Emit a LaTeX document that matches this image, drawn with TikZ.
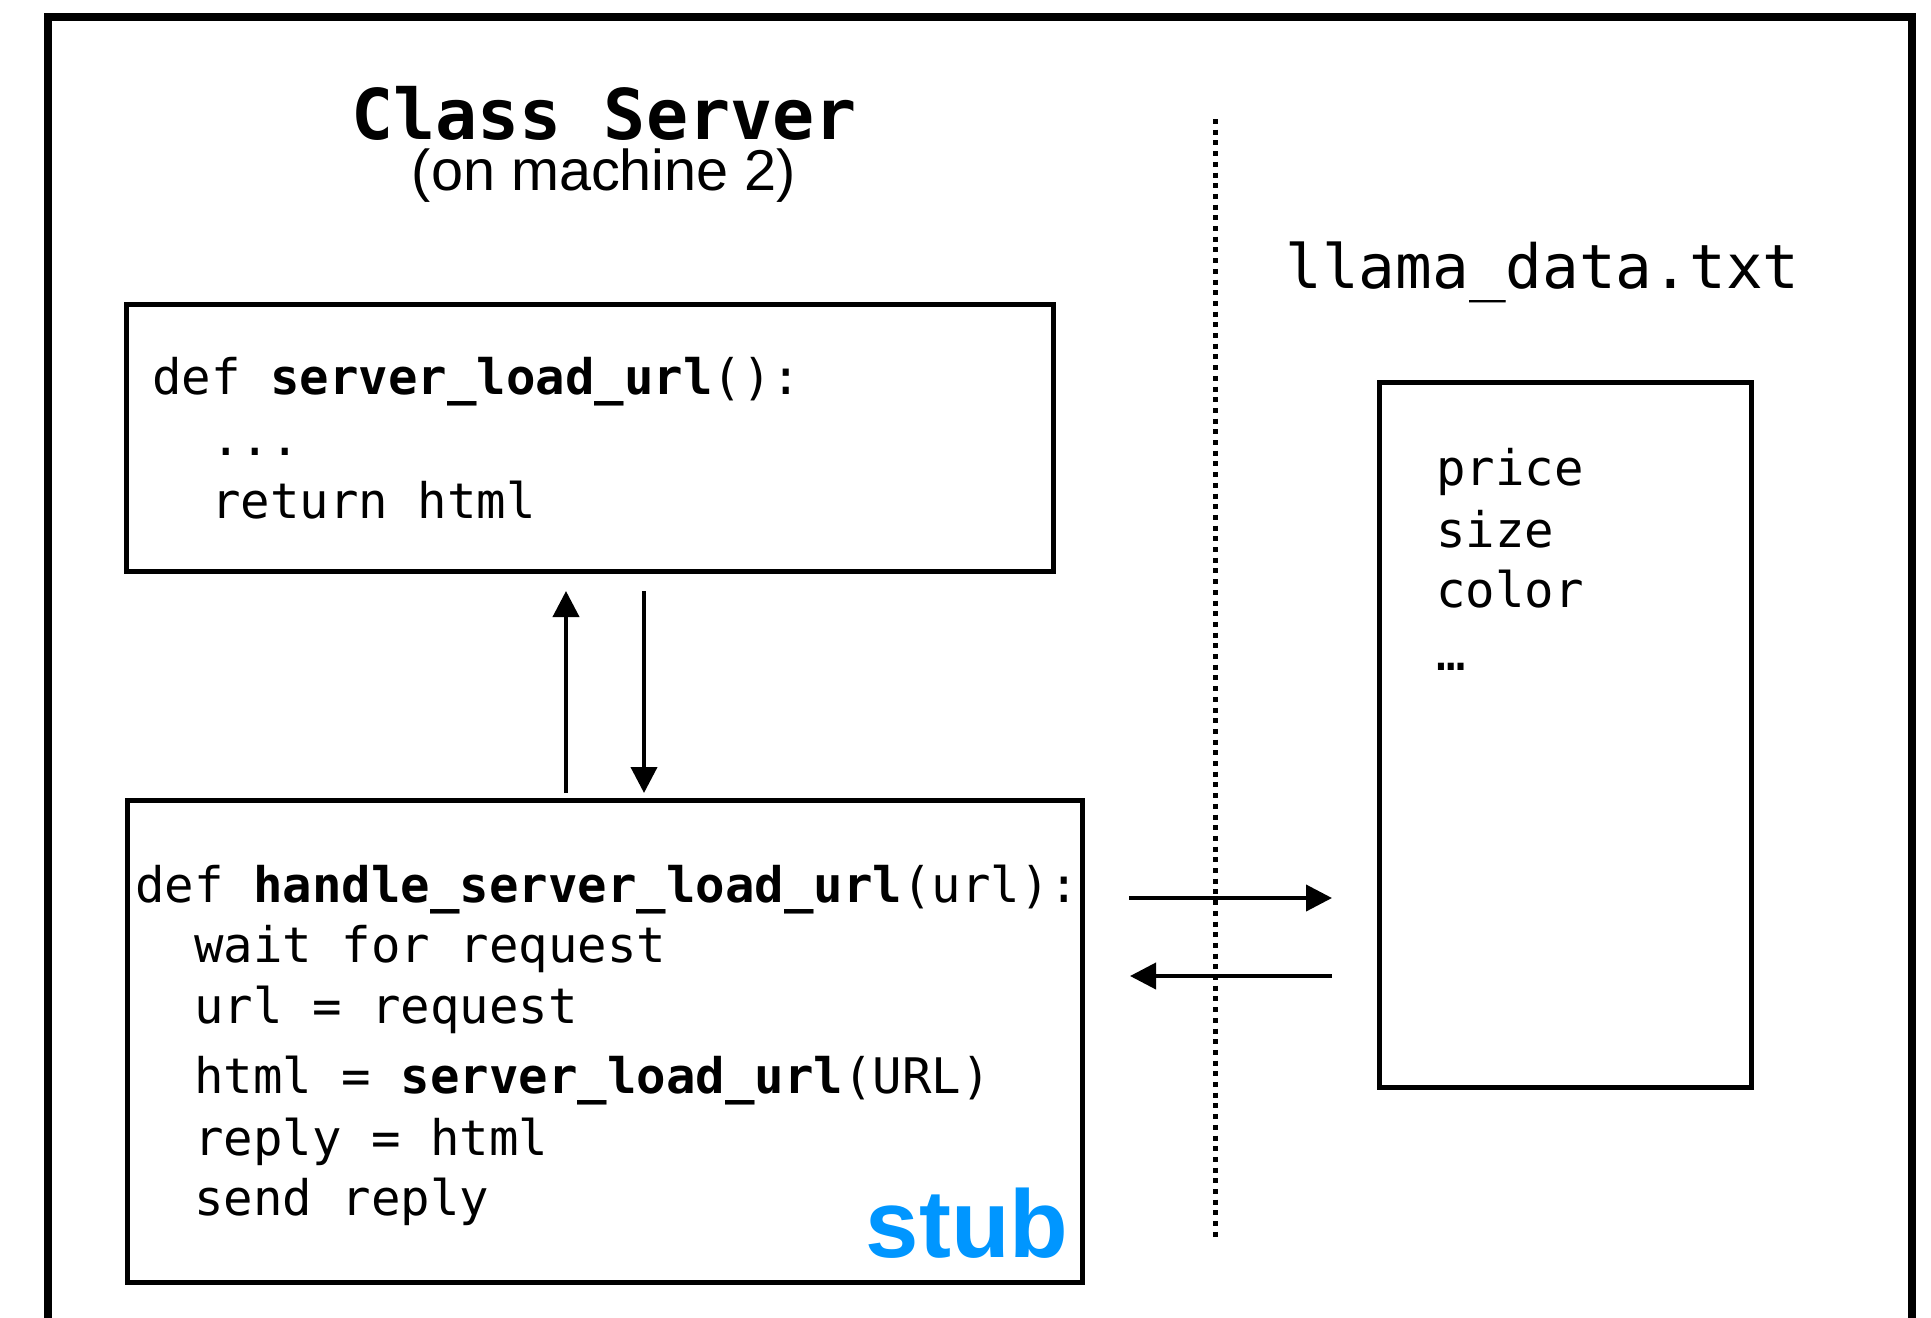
\documentclass[tikz,border=0pt]{standalone}
\usepackage{fontspec}
\setmonofont{DejaVu Sans Mono}
\setsansfont{Liberation Sans}
\usepackage{xcolor}
\usetikzlibrary{arrows.meta}
\definecolor{stubblue}{RGB}{0,150,255}

\tikzset{
  box/.style={draw, line width=2.5pt, inner sep=0pt, outer sep=0pt, anchor=north west},
  code/.style={anchor=base west, inner sep=0pt, font=\ttfamily\fontsize{24.5pt}{30pt}\selectfont},
  flow/.style={line width=2pt, -{Triangle[length=13pt,width=13pt]}},
}

\begin{document}
\begin{tikzpicture}[x=0.5pt,y=0.5pt,yscale=-1,xscale=1]
\useasboundingbox (0,0) rectangle (1931,1317);

%Outer frame (open at the bottom)
\draw [line width=4pt] (47.5,1340) -- (47.5,17) -- (1912,17) -- (1912,1340) ;

%Title
\node (title) at (604,139) [anchor=base, inner sep=0pt, font=\ttfamily\bfseries\fontsize{35pt}{35pt}\selectfont] {Class Server};
\node (machine) at (604,190) [anchor=base, inner sep=0pt, font=\sffamily\fontsize{28.8pt}{28.8pt}\selectfont] {(on machine 2)};

%Shape: server_load_url box
\node (srv) at (126,304) [box, minimum width=463.5pt, minimum height=133.5pt] {};
\node (srv1) at (152,394) [code] {def \textbf{server\_load\_url}():};
\node (srv2) at (211,455) [code] {...};
\node (srv3) at (211,518) [code] {return html};

%Shape: handle_server_load_url box
\node (hdl) at (127,800) [box, minimum width=477.5pt, minimum height=241pt] {};
\node (hdl1) at (135,902) [code] {def \textbf{handle\_server\_load\_url}(url):};
\node (hdl2) at (194,962) [code] {wait for request};
\node (hdl3) at (194,1023) [code] {url = request};
\node (hdl4) at (194,1093) [code] {html = \textbf{server\_load\_url}(URL)};
\node (hdl5) at (194,1155) [code] {reply = html};
\node (hdl6) at (194,1215) [code] {send reply};
\node (stub) at (1069,1257) [anchor=base east, inner sep=0pt, text=stubblue, font=\sffamily\bfseries\fontsize{48pt}{48pt}\selectfont] {stub};

%Dotted divider
\draw [line width=2.5pt, dash pattern=on 2.5pt off 2.85pt] (1215,119) -- (1215,1240) ;

%Shape: data file box
\node (fname) at (1285,288) [anchor=base west, inner sep=0pt, font=\ttfamily\fontsize{30.5pt}{30.5pt}\selectfont] {llama\_data.txt};
\node (data) at (1379,382) [box, minimum width=186pt, minimum height=352.5pt] {};
\node (data1) at (1436,485) [code] {price};
\node (data2) at (1436,547) [code] {size};
\node (data3) at (1436,607) [code] {color};
\node (data4) at (1436,670) [code] {…};

%Straight Lines: call and return
\draw [flow, shorten <=3.5pt, shorten >=10pt] ([xshift=-19.25pt]hdl.north) -- ([xshift=-19.25pt]hdl.north |- srv.south) ;
\draw [flow, shorten <=10pt, shorten >=3.5pt] ([xshift=19.75pt]hdl.north |- srv.south) -- ([xshift=19.75pt]hdl.north) ;

%Straight Lines: file access
\draw [flow, shorten <=23.5pt, shorten >=23.5pt] ([yshift=-71.5pt]hdl.east) -- ([yshift=-71.5pt]hdl.east -| data.west) ;
\draw [flow, shorten <=23.5pt, shorten >=24pt] ([yshift=-32.5pt]hdl.east -| data.west) -- ([yshift=-32.5pt]hdl.east) ;
\end{tikzpicture}
\end{document}
